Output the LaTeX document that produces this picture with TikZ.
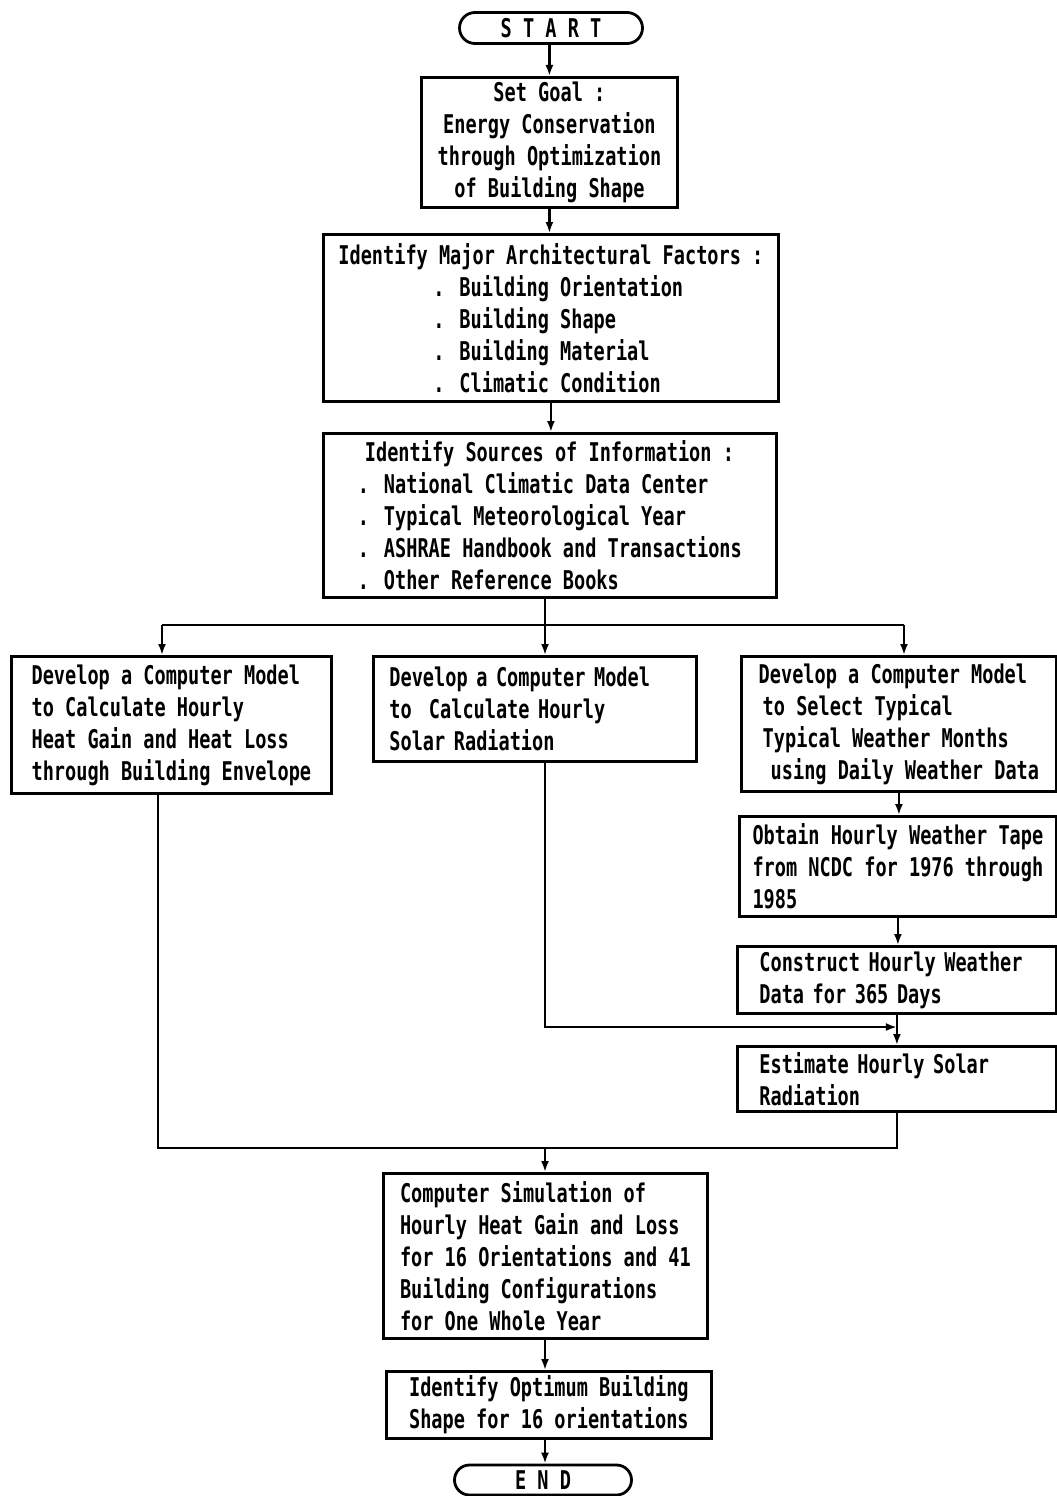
\documentclass[tikz,border=0pt]{standalone}
\usepackage{fontspec}
\newfontfamily\flowfont{DejaVu Sans Mono}[FakeStretch=0.72]
\usetikzlibrary{arrows.meta,shapes.misc}

\tikzset{
  stepbox/.style={draw, line width=2.8pt, anchor=north west, align=left, inner ysep=2pt},
  termbox/.style={draw, line width=2.8pt, rounded rectangle, minimum width=183pt, minimum height=31pt, inner sep=0pt},
  arr/.style={line width=2.8pt, -{Latex[length=11pt,width=8pt]}},
  link/.style={line width=2.8pt}
}

\begin{document}
\begin{tikzpicture}[x=1pt, y=-1pt, font=\flowfont\bfseries\fontsize{25.8}{32}\selectfont]
\useasboundingbox (0,0) rectangle (1057,1496);
% main column
\node[termbox] (start) at (551,28) {S T A R T};
\node[stepbox, align=center, minimum width=256pt, minimum height=130pt] (goal) at (420,76)
  {Set Goal :\\Energy Conservation\\through Optimization\\of Building Shape};
\node[stepbox, minimum width=455pt, minimum height=167pt] (factors) at (322,233)
  {Identify Major Architectural Factors :\\
   \hspace*{95pt}. Building Orientation\\
   \hspace*{95pt}. Building Shape\\
   \hspace*{95pt}. Building Material\\
   \hspace*{95pt}. Climatic Condition};
\node[stepbox, minimum width=453pt, minimum height=164pt] (sources) at (322,432)
  {\hspace*{7pt}Identify Sources of Information :\\
   . National Climatic Data Center\\
   . Typical Meteorological Year\\
   . ASHRAE Handbook and Transactions\\
   . Other Reference Books};
% three models
\node[stepbox, minimum width=320pt, minimum height=137pt] (modL) at (10,655)
  {Develop a Computer Model\\to Calculate Hourly\\Heat Gain and Heat Loss\\through Building Envelope};
\node[stepbox, text width=291pt, inner xsep=16pt, minimum height=105pt] (modM) at (372,655)
  {Develop a Computer Model\\to~\ Calculate Hourly\\Solar Radiation};
\node[stepbox, minimum width=315pt, minimum height=135pt] (modR) at (740,655)
  {Develop a Computer Model\\
   \hspace*{4pt}to Select Typical\\
   \hspace*{4pt}Typical Weather Months\\
   \hspace*{12pt}using Daily Weather Data};
% right column
\node[stepbox, minimum width=317pt, minimum height=100pt] (tape) at (738,815)
  {Obtain Hourly Weather Tape\\from NCDC for 1976 through\\1985};
\node[stepbox, text width=275pt, inner xsep=22pt, minimum height=67pt] (constr) at (736,945)
  {Construct Hourly Weather\\Data for 365 Days};
\node[stepbox, text width=275pt, inner xsep=22pt, minimum height=65pt] (estim) at (736,1045)
  {Estimate Hourly Solar\\Radiation};
% simulation and end
\node[stepbox, minimum width=324pt, minimum height=165pt] (sim) at (382,1172)
  {Computer Simulation of\\Hourly Heat Gain and Loss\\for 16 Orientations and 41\\Building Configurations\\for One Whole Year};
\node[stepbox, minimum width=325pt, minimum height=67pt] (optim) at (385,1370)
  {Identify Optimum Building\\Shape for 16 orientations};
\node[termbox, minimum width=177pt, minimum height=30pt] (finish) at (543,1480) {E N D};

\path
  (545,625) coordinate (split)
  (162,625) coordinate (splitL)
  (904,625) coordinate (splitR)
  (158,0) coordinate (dropL)
  (estim.north |- 0,1027) coordinate (merge)
  (545,1148) coordinate (joinS);

\draw[arr] (goal.north |- start.south) -- (goal.north);
\draw[arr] (goal.south) -- (goal.south |- factors.north);
\draw[arr] (factors.south) -- (factors.south |- sources.north);
\draw[link] (split |- sources.south) -- (split);
\draw[link] (splitL) -- (splitR);
\draw[arr] (splitL) -- (splitL |- modL.north);
\draw[arr] (split) -- (split |- modM.north);
\draw[arr] (splitR) -- (splitR |- modR.north);
\foreach \a/\b in {modR/tape, tape/constr, constr/estim}
  \draw[arr] (\a.south) -- (\a.south |- \b.north);
\draw[arr] (split |- modM.south) |- (merge);
\draw[link] (dropL |- modL.south) -- (dropL |- joinS) -- (estim.south |- joinS) -- (estim.south);
\draw[arr] (joinS) -- (joinS |- sim.north);
\draw[arr] (joinS |- sim.south) -- (joinS |- optim.north);
\draw[arr] (joinS |- optim.south) -- (joinS |- finish.north);
\end{tikzpicture}
\end{document}
